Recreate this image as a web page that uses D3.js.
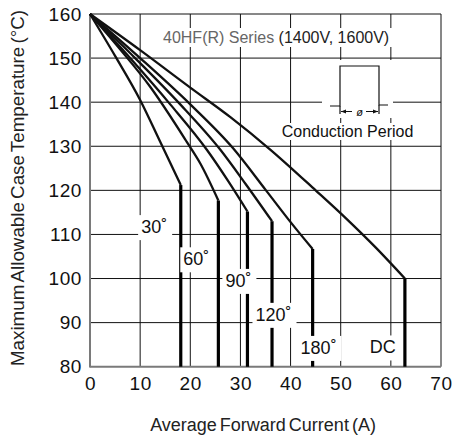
<!DOCTYPE html>
<html>
<head>
<meta charset="utf-8">
<script src="https://cdn.jsdelivr.net/npm/d3@7"></script>
<style>
  html, body { margin: 0; padding: 0; background: #fff; }
  svg { display: block; font-family: "Liberation Sans", Arial, Helvetica, sans-serif; }
</style>
</head>
<body>
<svg id="chart" width="460" height="439"></svg>
<script>
// ---- data ----
const xTicks = [0, 10, 20, 30, 40, 50, 60, 70];
const yTicks = [80, 90, 100, 110, 120, 130, 140, 150, 160];
const seriesNames = ["30˚", "60˚", "90˚", "120˚", "180˚", "DC"];
const curve30  = [[0,160],[5,150.5],[10,140.5],[14,131],[18.1,121.2]];
const curve60  = [[0,160],[6,152],[12,143.5],[19.3,131],[22,126.1],[25.6,117.7]];
const curve90  = [[0,160],[8,150],[16,139.5],[23.3,129.2],[27.5,122.2],[31.4,115.2]];
const curve120 = [[0,160],[9,150],[18,139.5],[26,129.2],[31,121.5],[36.3,113]];
const curve180 = [[0,160],[10,150],[20,139.5],[28.5,129.6],[35.1,120],[40,112.8],[44.4,106.7]];
const curveDC  = [[0,160],[10,151.8],[20,143.3],[28,136.6],[36,129.2],[45,120],[51,113.7],[57,107],[62.8,100]];
const curves = [curve30, curve60, curve90, curve120, curve180, curveDC];
const titleText = ["40HF(R) Series ", "(1400V, 1600V)"];
const legendText = "Conduction Period";
const xLabel = "Average Forward Current (A)";
const yLabel = "Maximum Allowable Case Temperature (°C)";

// ---- layout ----
const svg = d3.select("#chart");
const x = d3.scaleLinear().domain([0, 70]).range([90, 441]);
const y = d3.scaleLinear().domain([80, 160]).range([366.7, 14]);
// label anchors (data units: left x, baseline T)
const labelAnchors = [[10.2,110.3],[18.6,103.0],[27.0,98.1],[33.0,90.4],[42.0,82.9],[55.8,83.0]];

function whiteBehind(textSel, padL, padR, padT, padB) {
  const b = textSel.node().getBBox();
  const parent = textSel.node().parentNode;
  d3.select(parent).insert("rect", () => textSel.node())
    .attr("x", b.x - padL).attr("y", b.y - padT)
    .attr("width", b.width + padL + padR).attr("height", b.height + padT + padB)
    .attr("fill", "#fff");
}

// grid
const grid = svg.append("g");
grid.selectAll("line.v").data(xTicks.filter(d => d > 0)).join("line")
  .attr("x1", d => x(d)).attr("x2", d => x(d))
  .attr("y1", y(80)).attr("y2", y(160))
  .attr("stroke", "#111").attr("stroke-width", 1);
grid.selectAll("line.h").data(yTicks.filter(d => d > 80)).join("line")
  .attr("x1", x(0)).attr("x2", x(70))
  .attr("y1", d => y(d)).attr("y2", d => y(d))
  .attr("stroke", "#111").attr("stroke-width", 1);

// axes frame (left & bottom gray)
svg.append("line").attr("x1", x(0)).attr("x2", x(0)).attr("y1", y(160)).attr("y2", y(80) + 0.5)
  .attr("stroke", "#7a7a7a").attr("stroke-width", 2);
svg.append("line").attr("x1", x(0) - 0.5).attr("x2", x(70)).attr("y1", y(80)).attr("y2", y(80))
  .attr("stroke", "#7a7a7a").attr("stroke-width", 2);

// axis tick labels via d3 axes
const xAxis = svg.append("g").attr("transform", `translate(0,${y(80)})`)
  .call(d3.axisBottom(x).tickValues(xTicks).tickSize(0).tickPadding(10).tickFormat(d3.format("d")));
xAxis.select(".domain").remove();
xAxis.selectAll("text").attr("font-size", 19).attr("fill", "#111")
  .attr("font-family", "Liberation Sans, Arial, sans-serif").attr("letter-spacing", 0.6);

const yAxis = svg.append("g").attr("transform", `translate(${x(0)},0)`)
  .call(d3.axisLeft(y).tickValues(yTicks).tickSize(0).tickPadding(8).tickFormat(d3.format("d")));
yAxis.select(".domain").remove();
yAxis.selectAll("text").attr("font-size", 19).attr("fill", "#111")
  .attr("font-family", "Liberation Sans, Arial, sans-serif").attr("letter-spacing", 0.6);

// axis titles
svg.append("text").attr("x", 263).attr("y", 431).attr("text-anchor", "middle")
  .attr("font-size", 18).attr("fill", "#222").attr("word-spacing", -2).text(xLabel);
svg.append("text").attr("transform", "translate(24,188) rotate(-90)").attr("text-anchor", "middle")
  .attr("font-size", 18.8).attr("fill", "#222").attr("word-spacing", -2).text(yLabel);

// title block with white background
const title = svg.append("text").attr("x", 163).attr("y", 43).attr("font-size", 16);
title.append("tspan").attr("fill", "#666").text(titleText[0]);
title.append("tspan").attr("fill", "#222").text(titleText[1]);
whiteBehind(title, 3, 3, 1, 1);

// conduction period icon
const icon = svg.append("g");
icon.append("rect").attr("x", 322).attr("y", 60).attr("width", 71).attr("height", 58).attr("fill", "#fff");
icon.append("path").attr("d", "M330,106 H340 V66 H379 V105 H388").attr("fill", "none").attr("stroke", "#111").attr("stroke-width", 1.2);
icon.append("path").attr("d", "M340,106 V114 M379,105 V114").attr("fill", "none").attr("stroke", "#111").attr("stroke-width", 1.2);
icon.append("path").attr("d", "M341,111.5 H352 M366,111.5 H378").attr("stroke", "#111").attr("stroke-width", 1);
icon.append("path").attr("d", "M341,111.5 l5,-2 v4 z M378,111.5 l-5,-2 v4 z").attr("fill", "#111");
icon.append("text").attr("x", 359.5).attr("y", 115.5).attr("text-anchor", "middle").attr("font-size", 11).attr("font-style", "italic").attr("fill", "#111").text("ø");
const leg = svg.append("text").attr("x", 347.5).attr("y", 137).attr("text-anchor", "middle").attr("font-size", 16).attr("fill", "#111").text(legendText);
whiteBehind(leg, 3, 3, 0, 0);

// curves
const line = d3.line().x(d => x(d[0])).y(d => y(d[1])).curve(d3.curveMonotoneX);
const straight = d3.line().x(d => x(d[0])).y(d => y(d[1]));
const curveG = svg.append("g");
curves.forEach(c => {
  curveG.append("path").attr("d", line(c)).attr("fill", "none").attr("stroke", "#111").attr("stroke-width", 2.3).attr("stroke-linejoin", "round");
  const last = c[c.length - 1];
  curveG.append("path").attr("d", straight([last, [last[0], 80]])).attr("fill", "none").attr("stroke", "#000").attr("stroke-width", 3.2);
});

// series labels with white boxes
const labG = svg.append("g");
seriesNames.forEach((name, i) => {
  const t = labG.append("text").attr("x", x(labelAnchors[i][0])).attr("y", y(labelAnchors[i][1]))
    .attr("font-size", 18).attr("fill", "#111").text(name);
  whiteBehind(t, 3, 5, 2, 3);
});
</script>
</body>
</html>
